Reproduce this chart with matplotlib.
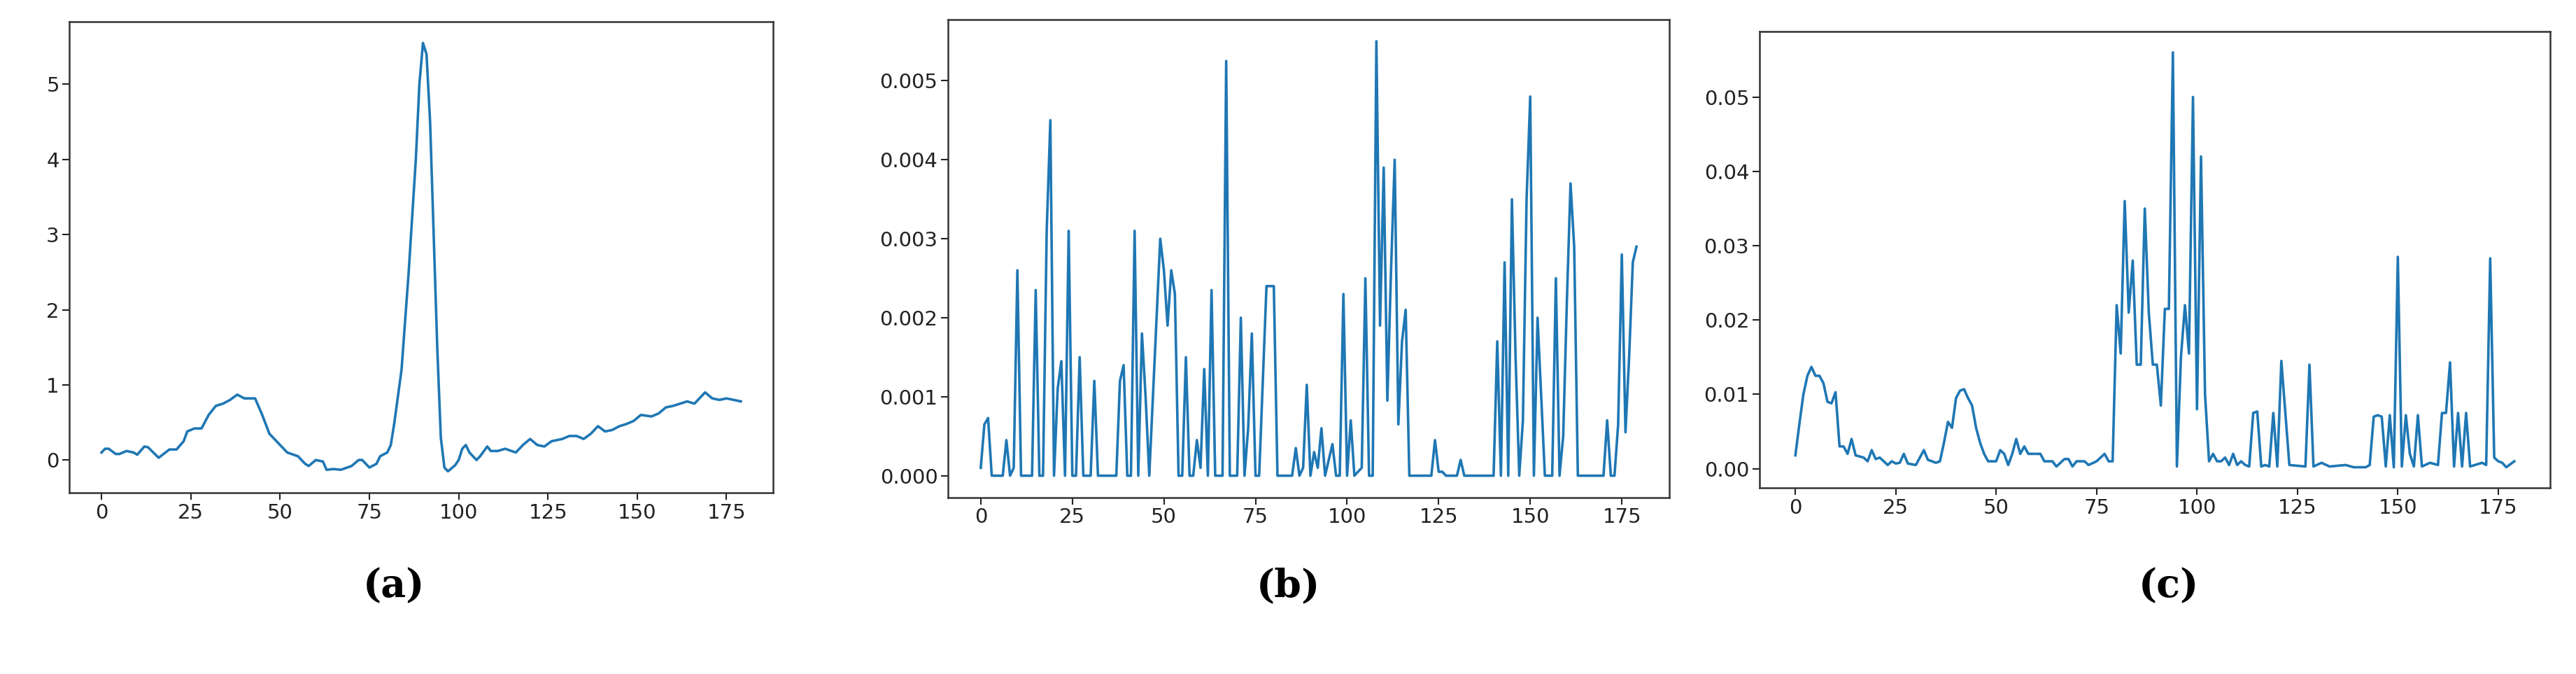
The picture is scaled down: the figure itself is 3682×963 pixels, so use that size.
import matplotlib
matplotlib.use('Agg')
import matplotlib.pyplot as plt

# panel (a)
xa = [0, 1, 2, 4, 5, 7, 9, 10, 12, 13, 16, 19, 21, 23, 24, 26, 28, 30, 32, 34, 36, 38, 40, 43, 45, 47,
      50, 52, 55, 57, 58, 60, 62, 63, 65, 67, 70, 72, 73, 75, 77, 78, 80, 81, 82, 84, 86, 88, 89, 90,
      91, 92, 93, 94, 95, 96, 97, 99, 100, 101, 102, 103, 105, 106, 108, 109, 111, 113, 116, 118, 120,
      122, 124, 126, 129, 131, 133, 135, 137, 139, 141, 143, 145, 147, 149, 151, 154, 156, 158, 160,
      162, 164, 166, 168, 169, 171, 173, 175, 177, 179]
ya = [0.1, 0.15, 0.15, 0.08, 0.08, 0.12, 0.1, 0.07, 0.18, 0.17, 0.03, 0.14, 0.14, 0.25, 0.38, 0.42,
      0.42, 0.6, 0.72, 0.75, 0.8, 0.87, 0.82, 0.82, 0.6, 0.35, 0.2, 0.1, 0.05, -0.05, -0.08, 0.0,
      -0.02, -0.13, -0.12, -0.13, -0.08, 0.0, 0.0, -0.1, -0.05, 0.05, 0.1, 0.2, 0.5, 1.2, 2.5, 4.0,
      5.0, 5.55, 5.4, 4.5, 3.0, 1.5, 0.3, -0.1, -0.15, -0.07, 0.0, 0.15, 0.2, 0.1, 0.0, 0.05, 0.18,
      0.12, 0.12, 0.15, 0.1, 0.2, 0.28, 0.2, 0.18, 0.25, 0.28, 0.32, 0.32, 0.28, 0.35, 0.45, 0.38,
      0.4, 0.45, 0.48, 0.52, 0.6, 0.58, 0.62, 0.7, 0.72, 0.75, 0.78, 0.75, 0.85, 0.9, 0.82, 0.8,
      0.82, 0.8, 0.78]

# panel (b)
xb = [0, 1, 2, 3, 6, 7, 8, 9, 10, 11, 14, 15, 16, 17, 18, 19, 20, 21, 22, 23, 24, 25, 26, 27, 28,
      30, 31, 32, 37, 38, 39, 40, 41, 42, 43, 44, 45, 46, 48, 49, 50, 51, 52, 53, 54, 55, 56, 57,
      58, 59, 60, 61, 62, 63, 64, 66, 67, 68, 70, 71, 72, 73, 74, 75, 76, 78, 79, 80, 81, 85, 86,
      87, 88, 89, 90, 91, 92, 93, 94, 96, 97, 98, 99, 100, 101, 102, 104, 105, 106, 107, 108, 109,
      110, 111, 112, 113, 114, 115, 116, 117, 123, 124, 125, 126, 127, 130, 131, 132, 140, 141,
      142, 143, 144, 145, 146, 147, 148, 149, 150, 151, 152, 153, 154, 156, 157, 158, 159, 160,
      161, 162, 163, 170, 171, 172, 173, 174, 175, 176, 177, 178, 179]
yb = [0.0001, 0.00065, 0.00073, 0, 0, 0.00045, 0, 0.0001, 0.0026, 0, 0, 0.00235, 0, 0, 0.0031,
      0.0045, 0, 0.0011, 0.00145, 0, 0.0031, 0, 0, 0.0015, 0, 0, 0.0012, 0, 0, 0.0012, 0.0014, 0,
      0, 0.0031, 0, 0.0018, 0.001, 0, 0.002, 0.003, 0.0026, 0.0019, 0.0026, 0.0023, 0, 0, 0.0015,
      0, 0, 0.00045, 0.0001, 0.00135, 0, 0.00235, 0, 0, 0.00525, 0, 0, 0.002, 0, 0.0006, 0.0018, 0,
      0, 0.0024, 0.0024, 0.0024, 0, 0, 0.00035, 0, 0.0001, 0.00115, 0, 0.0003, 0.0001, 0.0006, 0,
      0.0004, 0, 0, 0.0023, 0, 0.0007, 0, 0.0001, 0.0025, 0, 0, 0.0055, 0.0019, 0.0039, 0.00095,
      0.0026, 0.004, 0.00065, 0.0017, 0.0021, 0, 0, 0.00045, 0.00005, 0.00005, 0, 0, 0.0002, 0, 0,
      0.0017, 0, 0.0027, 0, 0.0035, 0.0015, 0, 0.0007, 0.0035, 0.0048, 0, 0.002, 0.001, 0, 0,
      0.0025, 0, 0.0005, 0.0022, 0.0037, 0.0029, 0, 0, 0.0007, 0, 0, 0.00065, 0.0028, 0.00055,
      0.0015, 0.0027, 0.0029]

# panel (c)
xc = [0, 1, 2, 3, 4, 5, 6, 7, 8, 9, 10, 11, 12, 13, 14, 15, 17, 18, 19, 20, 21, 23, 24, 25, 26, 27,
      28, 30, 32, 33, 35, 36, 37, 38, 39, 40, 41, 42, 43, 44, 45, 46, 47, 48, 50, 51, 52, 53, 54,
      55, 56, 57, 58, 60, 61, 62, 64, 65, 67, 68, 69, 70, 72, 73, 75, 77, 78, 79, 80, 81, 82, 83,
      84, 85, 86, 87, 88, 89, 90, 91, 92, 93, 94, 95, 96, 97, 98, 99, 100, 101, 102, 103, 104, 105,
      106, 107, 108, 109, 110, 111, 112, 113, 114, 115, 116, 117, 118, 119, 120, 121, 122, 123,
      127, 128, 129, 131, 133, 137, 139, 142, 143, 144, 145, 146, 147, 148, 149, 150, 151, 152,
      153, 154, 155, 156, 158, 160, 161, 162, 163, 164, 165, 166, 167, 168, 171, 172, 173, 174,
      175, 176, 177, 179]
yc = [0.0018, 0.006, 0.01, 0.0125, 0.0137, 0.0125, 0.0125, 0.0115, 0.009, 0.0088, 0.0103, 0.003,
      0.003, 0.002, 0.004, 0.0018, 0.0015, 0.001, 0.0025, 0.0013, 0.0015, 0.0005, 0.001, 0.0007,
      0.0008, 0.002, 0.0007, 0.0005, 0.0025, 0.0012, 0.0008, 0.001, 0.0035, 0.0063, 0.0055, 0.0095,
      0.0105, 0.0107, 0.0095, 0.0085, 0.0055, 0.0035, 0.002, 0.001, 0.001, 0.0025, 0.002, 0.0005,
      0.002, 0.004, 0.002, 0.003, 0.002, 0.002, 0.002, 0.001, 0.001, 0.0003, 0.0013, 0.0013,
      0.0003, 0.001, 0.001, 0.0005, 0.001, 0.002, 0.001, 0.001, 0.022, 0.0155, 0.036, 0.021, 0.028,
      0.014, 0.014, 0.035, 0.021, 0.014, 0.014, 0.0085, 0.0215, 0.0215, 0.056, 0.0003, 0.015, 0.022,
      0.0155, 0.05, 0.008, 0.042, 0.01, 0.001, 0.002, 0.001, 0.001, 0.0015, 0.0005, 0.002, 0.0005,
      0.001, 0.0005, 0.0003, 0.0075, 0.0077, 0.0003, 0.0005, 0.0003, 0.0075, 0.0003, 0.0145,
      0.0075, 0.0005, 0.0003, 0.014, 0.0003, 0.0008, 0.0003, 0.0005, 0.0002, 0.0002, 0.0005, 0.007,
      0.0072, 0.007, 0.0003, 0.0072, 0.0002, 0.0285, 0.0003, 0.0072, 0.002, 0.0003, 0.0072, 0.0003,
      0.0008, 0.0005, 0.0075, 0.0075, 0.0143, 0.0003, 0.0075, 0.0003, 0.0075, 0.0003, 0.0008,
      0.0005, 0.0283, 0.0015, 0.001, 0.0008, 0.0002, 0.001]

labels = ['(a)', '(b)', '(c)']
yticks = [[0, 1, 2, 3, 4, 5],
          [0.0, 0.001, 0.002, 0.003, 0.004, 0.005],
          [0.0, 0.01, 0.02, 0.03, 0.04, 0.05]]
fmts = ['%d', '%.3f', '%.2f']

fig = plt.figure(figsize=(36.82, 9.63), dpi=100)
rects = [[0.027, 0.269, 0.273, 0.699],
         [0.368, 0.262, 0.280, 0.709],
         [0.683, 0.276, 0.307, 0.677]]
label_x = [0.153, 0.50, 0.842]

for i, (x, y) in enumerate([(xa, ya), (xb, yb), (xc, yc)]):
    ax = fig.add_axes(rects[i])
    ax.plot(x, y, color='#1f77b4', linewidth=2.6)
    ax.set_xticks([0, 25, 50, 75, 100, 125, 150, 175])
    ax.set_yticks(yticks[i])
    ax.set_yticklabels([fmts[i] % v for v in yticks[i]])
    ax.tick_params(labelsize=21, length=7, width=1.5, colors='#222222')
    for s in ax.spines.values():
        s.set_linewidth(1.8)
        s.set_color('#333333')
    fig.text(label_x[i], 0.13, labels[i], ha='center', va='center',
             fontsize=40, fontweight='bold', family='DejaVu Serif')

plt.savefig('out.png', dpi=100)
